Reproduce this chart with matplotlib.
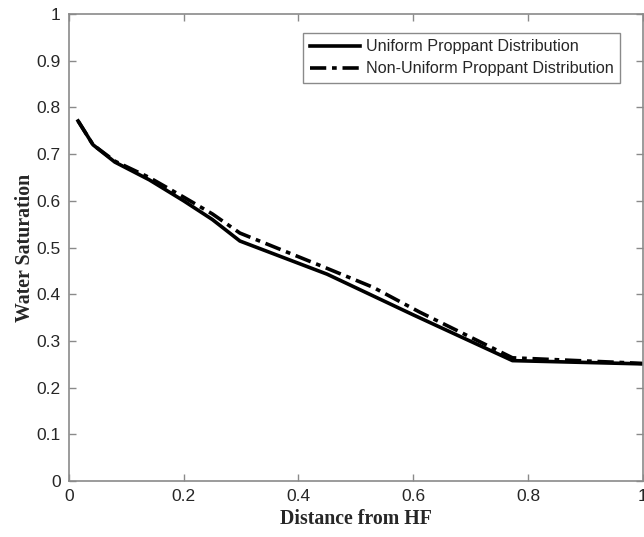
import matplotlib
matplotlib.use("Agg")
import matplotlib.pyplot as plt

# distance from the hydraulic fracture (normalised) and water saturation
dist_uniform = [0.016, 0.042, 0.08, 0.14, 0.20, 0.25, 0.298, 0.45, 0.60, 0.773, 1.0]
sw_uniform = [0.771, 0.720, 0.683, 0.645, 0.600, 0.560, 0.514, 0.443, 0.356, 0.258, 0.251]

dist_nonuniform = [0.016, 0.042, 0.08, 0.14, 0.20, 0.25, 0.298, 0.437, 0.53, 0.611, 0.773, 1.0]
sw_nonuniform = [0.771, 0.720, 0.685, 0.650, 0.608, 0.572, 0.531, 0.462, 0.415, 0.362, 0.264, 0.252]

x_ticks = [0, 0.2, 0.4, 0.6, 0.8, 1]
x_ticklabels = ["0", "0.2", "0.4", "0.6", "0.8", "1"]
y_ticks = [0, 0.1, 0.2, 0.3, 0.4, 0.5, 0.6, 0.7, 0.8, 0.9, 1]
y_ticklabels = ["0", "0.1", "0.2", "0.3", "0.4", "0.5", "0.6", "0.7", "0.8", "0.9", "1"]

AXIS_GREY = "#8a8a8a"
TEXT_GREY = "#262626"

fig = plt.figure(figsize=(6.44, 5.37), dpi=100)
ax = fig.add_axes([0.107, 0.104, 0.891, 0.870])

ax.plot(dist_uniform, sw_uniform, color="black", linewidth=2.6, linestyle="-",
        label="Uniform Proppant Distribution")
ax.plot(dist_nonuniform, sw_nonuniform, color="black", linewidth=2.6,
        linestyle=(0, (4.5, 1.6, 1.3, 1.6)), label="Non-Uniform Proppant Distribution")

ax.set_xlim(0, 1)
ax.set_ylim(0, 1)
ax.set_xticks(x_ticks)
ax.set_xticklabels(x_ticklabels)
ax.set_yticks(y_ticks)
ax.set_yticklabels(y_ticklabels)

for spine in ax.spines.values():
    spine.set_color(AXIS_GREY)
    spine.set_linewidth(1.2)
ax.tick_params(direction="in", length=5, width=1, color=AXIS_GREY,
               top=True, right=True, labelsize=12.5, labelcolor=TEXT_GREY, pad=6)
for lbl in ax.get_xticklabels() + ax.get_yticklabels():
    lbl.set_family("Liberation Sans")

ax.set_xlabel("Distance from HF", family="Liberation Serif", fontweight="bold",
              fontsize=14.3, color=TEXT_GREY, labelpad=3)
ax.set_ylabel("Water Saturation", family="Liberation Serif", fontweight="bold",
              fontsize=14.3, color=TEXT_GREY, labelpad=1)

leg = ax.legend(loc="upper right", bbox_to_anchor=(0.975, 0.977),
                prop={"family": "Liberation Sans", "size": 11.6},
                fancybox=False, framealpha=1, handlelength=3.1,
                handletextpad=0.4, borderpad=0.4, labelspacing=0.45)
leg.get_frame().set_edgecolor(AXIS_GREY)
leg.get_frame().set_linewidth(1.0)
for t in leg.get_texts():
    t.set_color(TEXT_GREY)

fig.savefig("out.png", dpi=100)
